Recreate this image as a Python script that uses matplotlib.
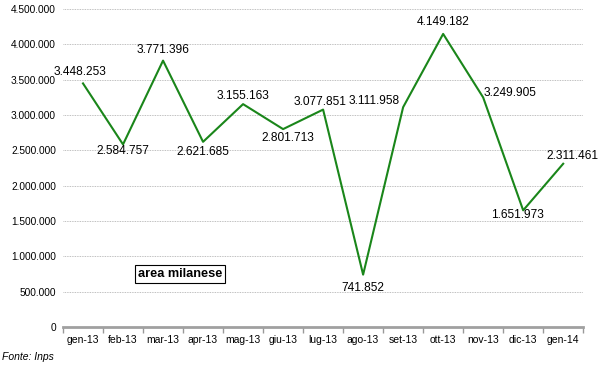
import matplotlib.pyplot as plt
import matplotlib.ticker as mticker
import numpy as np

plt.rcParams['font.family'] = ['Liberation Sans', 'DejaVu Sans']

months = ['gen-13', 'feb-13', 'mar-13', 'apr-13', 'mag-13', 'giu-13', 'lug-13',
          'ago-13', 'set-13', 'ott-13', 'nov-13', 'dic-13', 'gen-14']
values = [3448253, 2584757, 3771396, 2621685, 3155163, 2801713, 3077851,
          741852, 3111958, 4149182, 3249905, 1651973, 2311461]

# label offsets in pixels (dx, dy) relative to each point
offsets = [(-3, 11), (0, -7), (0, 11), (0, -10), (0, 8), (5, -9), (-3, 8),
           (0, -13), (-29, 6), (0, 12), (27, 4), (-6, -5), (9, 8)]


def it_fmt(v, pos=None):
    return f"{int(v):,}".replace(',', '.')


fig = plt.figure(figsize=(6, 3.65), dpi=100)
ax = fig.add_axes([0.105, 0.104, 0.867, 0.871])

x = np.arange(len(months))
ax.plot(x, values, color='#1a861a', linewidth=1.5)

for xi, v, (dx, dy) in zip(x, values, offsets):
    ax.annotate(it_fmt(v), (xi, v), xytext=(dx, dy), textcoords='offset pixels',
                ha='center', va='center', fontsize=8.6, color='black')

ax.set_xlim(-0.5, len(months) - 0.5)
ax.set_ylim(0, 4500000)
ax.yaxis.set_major_locator(mticker.MultipleLocator(500000))
ax.yaxis.set_major_formatter(mticker.FuncFormatter(it_fmt))
ax.grid(axis='y', color='#aaaaaa', linestyle=(0, (1, 1)), linewidth=0.6)
ax.set_axisbelow(True)

ax.set_xticks(x)
ax.set_xticklabels(months)
ax.set_xticks(np.arange(len(months) + 1) - 0.5, minor=True)
ax.tick_params(axis='x', which='major', length=0, labelsize=7.5, pad=6)
ax.tick_params(axis='x', which='minor', length=4, color='#999999', width=1)
ax.tick_params(axis='y', length=0, labelsize=7.3, pad=5)

for s in ['top', 'right', 'left']:
    ax.spines[s].set_visible(False)
ax.spines['bottom'].set_color('#a0a0a0')
ax.spines['bottom'].set_linewidth(2)

ax.text(0.225, 0.167, 'area milanese', transform=ax.transAxes, fontsize=9.2,
        fontweight='bold', ha='center', va='center',
        bbox=dict(boxstyle='square,pad=0.2', facecolor='white', edgecolor='black', linewidth=0.8))

fig.text(0.003, 0.022, 'Fonte: Inps', fontsize=7.5, style='italic', ha='left', va='center')

fig.savefig('out.png', dpi=100)
